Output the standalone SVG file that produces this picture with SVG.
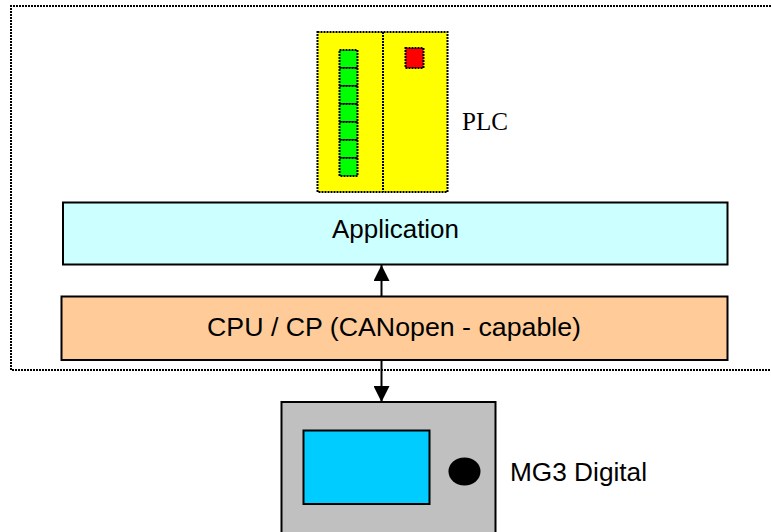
<svg xmlns="http://www.w3.org/2000/svg" width="771" height="532" viewBox="0 0 771 532">
<style>
.s{stroke:#000;stroke-width:2}
.d{stroke:#000;stroke-width:2;stroke-dasharray:2 1}
.sans{font-family:"Liberation Sans",Arial,sans-serif;font-size:25.500px;fill:#000}
.serif{font-family:"Liberation Serif","Times New Roman",serif;font-size:25.500px;fill:#000}
.g{fill:#00ff00}
</style>
<defs>
<marker id="a" markerUnits="userSpaceOnUse" markerWidth="16" markerHeight="16" refX="16" refY="8" orient="auto"><path d="M0 0L16 8L0 16Z" fill="#000"/></marker>
</defs>
<rect width="771" height="532" fill="#fff"/>
<g id="frame"><path class="d" d="M771 6H11V370H771" fill="none"/></g>
<g id="plc">
<rect class="d" x="317.500" y="32" width="130" height="160" fill="#ffff00"/>
<path class="d" d="M383 32V192" fill="none"/>
<rect class="d g" x="339.500" y="50" width="18" height="18"/>
<rect class="d g" x="339.500" y="68" width="18" height="18"/>
<rect class="d g" x="339.500" y="86" width="18" height="18"/>
<rect class="d g" x="339.500" y="104" width="18" height="18"/>
<rect class="d g" x="339.500" y="122" width="18" height="18"/>
<rect class="d g" x="339.500" y="140" width="18" height="18"/>
<rect class="d g" x="339.500" y="158" width="18" height="18"/>
<rect class="d" x="405.500" y="48" width="18" height="20" fill="#ff0000"/>
<text class="serif" x="462" y="130" textLength="46" lengthAdjust="spacingAndGlyphs">PLC</text>
</g>
<g id="application">
<rect class="s" x="63" y="202.500" width="664.500" height="62" fill="#ccffff"/>
<text class="sans" x="332" y="238" textLength="127" lengthAdjust="spacingAndGlyphs">Application</text>
</g>
<g id="cpu">
<rect class="s" x="61.500" y="296.500" width="666" height="63.500" fill="#ffcc99"/>
<text class="sans" x="207" y="336" textLength="374" lengthAdjust="spacingAndGlyphs">CPU / CP (CANopen - capable)</text>
</g>
<g id="connectors">
<path class="s" d="M381.500 296V265" fill="none" marker-end="url(#a)"/>
<path class="s" d="M381.500 359V402" fill="none" marker-end="url(#a)"/>
</g>
<g id="mg3">
<rect class="s" x="281.500" y="402" width="214" height="136" fill="#c0c0c0"/>
<rect class="s" x="303.500" y="430.500" width="126" height="73.500" fill="#00ccff"/>
<ellipse cx="464.500" cy="471.500" rx="16" ry="14" fill="#000"/>
<text class="sans" x="510" y="481" textLength="137" lengthAdjust="spacingAndGlyphs">MG3 Digital</text>
</g>
</svg>
